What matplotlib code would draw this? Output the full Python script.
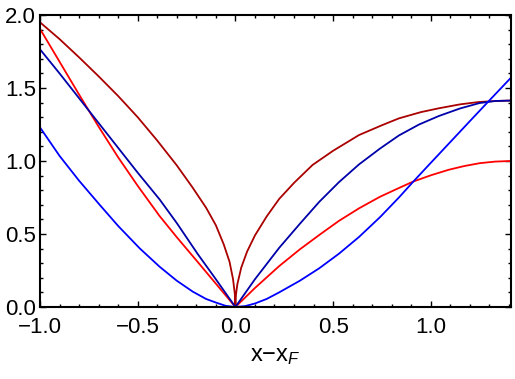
import matplotlib
matplotlib.use("Agg")
import matplotlib.pyplot as plt
import matplotlib.transforms as mtransforms
from matplotlib.ticker import MultipleLocator, FuncFormatter

plt.rcParams['font.family'] = ['Liberation Sans', 'DejaVu Sans']
plt.rcParams['mathtext.fontset'] = 'custom'
plt.rcParams['mathtext.rm'] = 'Liberation Sans'
plt.rcParams['mathtext.it'] = 'Liberation Sans:italic'

# values
x_darkred = [-1.0, -0.9, -0.8, -0.7, -0.6, -0.5, -0.4, -0.3, -0.22, -0.15, -0.1, -0.06, -0.03,
             -0.012, -0.003, 0.0, 0.003, 0.01, 0.03, 0.06, 0.1, 0.16, 0.224, 0.3, 0.395, 0.5,
             0.633, 0.75, 0.837, 0.95, 1.041, 1.15, 1.245, 1.33, 1.41]
y_darkred = [1.95, 1.835, 1.71, 1.58, 1.445, 1.30, 1.14, 0.97, 0.82, 0.68, 0.56, 0.43, 0.31,
             0.19, 0.09, 0.0, 0.085, 0.156, 0.27, 0.38, 0.49, 0.62, 0.74, 0.85, 0.973, 1.07,
             1.178, 1.245, 1.292, 1.335, 1.361, 1.388, 1.404, 1.411, 1.414]

x_red = [-1.0, -0.9, -0.8, -0.7, -0.6, -0.5, -0.388, -0.3, -0.194, -0.1, 0.0, 0.1, 0.224,
         0.33, 0.429, 0.53, 0.633, 0.74, 0.837, 0.908, 1.0, 1.092, 1.17, 1.25, 1.33, 1.41]
y_red = [1.905, 1.68, 1.455, 1.235, 1.025, 0.83, 0.623, 0.478, 0.31, 0.16, 0.0, 0.13, 0.28,
         0.395, 0.493, 0.59, 0.676, 0.755, 0.815, 0.858, 0.902, 0.94, 0.965, 0.985, 0.996, 1.0]

x_darkblue = [-1.0, -0.9, -0.8, -0.7, -0.6, -0.5, -0.388, -0.3, -0.194, -0.1, 0.0, 0.1, 0.224,
              0.33, 0.429, 0.53, 0.633, 0.74, 0.837, 0.94, 1.041, 1.15, 1.25, 1.33, 1.41]
y_darkblue = [1.765, 1.60, 1.43, 1.26, 1.09, 0.92, 0.737, 0.575, 0.365, 0.19, 0.0, 0.19, 0.405,
              0.57, 0.72, 0.855, 0.977, 1.085, 1.175, 1.25, 1.308, 1.36, 1.397, 1.411, 1.414]

x_blue = [-1.0, -0.9, -0.8, -0.694, -0.6, -0.49, -0.388, -0.3, -0.218, -0.15, -0.099, -0.05,
          0.0, 0.05, 0.1, 0.16, 0.224, 0.33, 0.429, 0.53, 0.633, 0.74, 0.837, 0.908, 0.99,
          1.1, 1.2, 1.3, 1.41]
y_blue = [1.23, 1.035, 0.865, 0.699, 0.555, 0.402, 0.276, 0.18, 0.105, 0.055, 0.03, 0.008,
          0.0, 0.006, 0.024, 0.055, 0.1, 0.18, 0.265, 0.365, 0.48, 0.615, 0.75, 0.855, 0.973,
          1.13, 1.273, 1.415, 1.57]

fig = plt.figure(figsize=(5.15, 3.79), dpi=100)
ax = fig.add_axes([0.0777, 0.19, 0.9143, 0.7704])

ax.plot(x_darkred, y_darkred, color='#AA0000', lw=1.3)
ax.plot(x_red, y_red, color='#FF0000', lw=1.3)
ax.plot(x_darkblue, y_darkblue, color='#0000AA', lw=1.3)
ax.plot(x_blue, y_blue, color='#0000FF', lw=1.3)

ax.set_xlim(-1.0, 1.41)
ax.set_ylim(0.0, 2.0)
ax.xaxis.set_major_locator(MultipleLocator(0.5))
ax.xaxis.set_minor_locator(MultipleLocator(0.1))
ax.yaxis.set_major_locator(MultipleLocator(0.5))
ax.yaxis.set_minor_locator(MultipleLocator(0.1))

fmt = FuncFormatter(lambda v, pos: ('%.1f' % v).replace('-', '\u2212'))
ax.xaxis.set_major_formatter(fmt)
ax.yaxis.set_major_formatter(fmt)

ax.tick_params(which='both', direction='in', top=True, right=True, width=1.0, labelsize=16)
ax.tick_params(which='major', length=4)
ax.tick_params(which='minor', length=2)
ax.tick_params(axis='x', pad=7)
ax.tick_params(axis='y', pad=3)
for s in ax.spines.values():
    s.set_linewidth(1.5)

ax.set_xlabel(r'$\mathrm{x}{-}\mathrm{x}_{F}$', fontsize=17, labelpad=5)

# nudge the bottom y label up a touch so it does not sit on the -1.0 label
fig.canvas.draw()
lab0 = ax.yaxis.get_majorticklabels()[0]
lab0.set_transform(lab0.get_transform() + mtransforms.ScaledTranslation(0, 3 / 72, fig.dpi_scale_trans))

fig.savefig('out.png', dpi=100)
